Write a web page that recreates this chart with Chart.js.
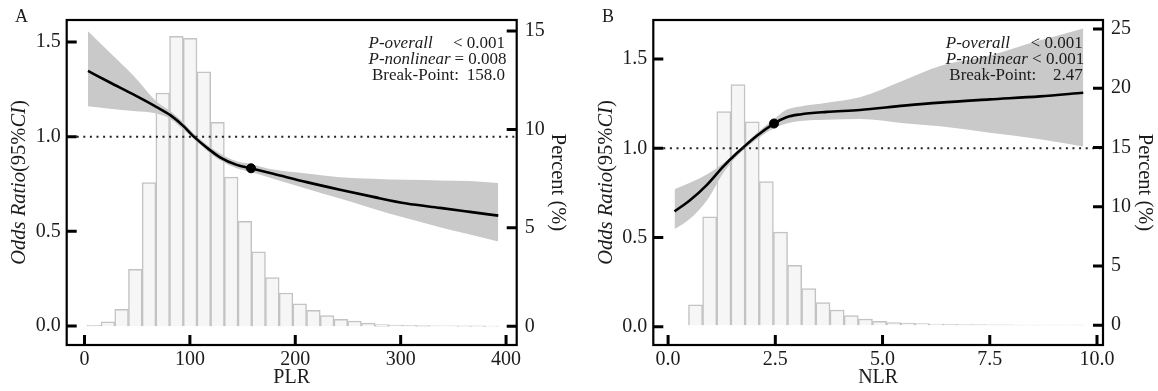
<!DOCTYPE html>
<html><head><meta charset="utf-8">
<script src="https://cdn.jsdelivr.net/npm/chart.js@4.4.1/dist/chart.umd.min.js"></script>
<style>
html,body{margin:0;padding:0;background:#fff;}
#wrap{position:relative;width:1158px;height:391px;overflow:hidden;}
.pane{position:absolute;top:0;width:579px;height:391px;}
#pa{left:0;} #pb{left:579px;}
canvas{display:block;}
</style></head><body>
<div id="wrap">
  <div class="pane" id="pa"><canvas id="ca" width="579" height="391"></canvas></div>
  <div class="pane" id="pb"><canvas id="cb" width="579" height="391"></canvas></div>
</div>
<script>
// ---------- Panel A : PLR ----------
const plrBinMid = [9.2, 22.2, 35.2, 48.2, 61.2, 74.2, 87.2, 100.2, 113.2, 126.2, 139.2, 152.2, 165.2, 178.2, 191.2, 204.2, 217.2, 230.2, 243.2, 256.2, 269.2, 282.2, 295.2, 308.2, 321.2, 334.2, 347.2, 360.2, 373.2, 386.2];
const plrPercent = [0.05, 0.23, 0.86, 2.90, 7.30, 11.85, 14.73, 14.63, 12.93, 10.36, 7.58, 5.33, 3.78, 2.47, 1.69, 1.14, 0.81, 0.55, 0.36, 0.27, 0.16, 0.09, 0.06, 0.05, 0.04, 0.03, 0.03, 0.02, 0.02, 0.01];
const plrX = [3.3, 24.2, 46.3, 68.5, 81.1, 93.7, 103.2, 115.9, 128.6, 144.4, 157.7, 179.1, 210.8, 242.4, 274.0, 305.7, 337.3, 365.7, 392.6];
const plrOR = [1.347, 1.286, 1.223, 1.156, 1.115, 1.057, 1.003, 0.943, 0.891, 0.851, 0.833, 0.804, 0.760, 0.720, 0.682, 0.647, 0.624, 0.603, 0.583];
const plrUpper = [1.557, 1.443, 1.323, 1.185, 1.137, 1.076, 1.019, 0.958, 0.911, 0.870, 0.856, 0.826, 0.805, 0.786, 0.778, 0.772, 0.769, 0.766, 0.755];
const plrLower = [1.160, 1.148, 1.135, 1.122, 1.095, 1.038, 0.990, 0.927, 0.875, 0.833, 0.813, 0.778, 0.725, 0.673, 0.620, 0.569, 0.522, 0.483, 0.446];
const plrBreakX = [158.0];
const plrBreakOR = [0.833];
const plrXTicks = [0, 100, 200, 300, 400];
const plrORTicks = [0.0, 0.5, 1.0, 1.5];
const plrPctTicks = [0, 5, 10, 15];
const plrStats = [["P-overall", "< 0.001"], ["P-nonlinear", "= 0.008"], ["Break-Point:", "158.0"]];

// ---------- Panel B : NLR ----------
const nlrBinMid = [0.64, 0.97, 1.30, 1.63, 1.96, 2.29, 2.62, 2.95, 3.28, 3.61, 3.94, 4.27, 4.60, 4.93, 5.26, 5.59, 5.92, 6.25, 6.58, 6.91, 7.24, 7.57, 7.90, 8.23, 8.56, 8.89, 9.22, 9.55];
const nlrPercent = [1.72, 9.15, 18.03, 20.30, 17.15, 12.12, 7.85, 5.06, 3.08, 1.90, 1.28, 0.82, 0.52, 0.33, 0.23, 0.18, 0.13, 0.10, 0.08, 0.06, 0.05, 0.04, 0.03, 0.02, 0.02, 0.01, 0.01, 0.01];
const nlrX = [0.15, 0.51, 0.90, 1.29, 1.60, 2.07, 2.47, 2.76, 3.08, 3.70, 4.47, 5.50, 6.34, 7.50, 8.67, 9.68];
const nlrOR = [0.647, 0.709, 0.794, 0.899, 0.972, 1.071, 1.139, 1.174, 1.190, 1.204, 1.215, 1.239, 1.256, 1.274, 1.291, 1.311];
const nlrUpper = [0.770, 0.807, 0.853, 0.918, 0.981, 1.086, 1.164, 1.216, 1.235, 1.256, 1.286, 1.381, 1.461, 1.520, 1.605, 1.672];
const nlrLower = [0.546, 0.605, 0.706, 0.863, 0.954, 1.051, 1.113, 1.139, 1.153, 1.160, 1.164, 1.141, 1.123, 1.087, 1.051, 1.010];
const nlrBreakX = [2.47];
const nlrBreakOR = [1.139];
const nlrXTicks = [0, 2.5, 5, 7.5, 10];
const nlrORTicks = [0.0, 0.5, 1.0, 1.5];
const nlrPctTicks = [0, 5, 10, 15, 20, 25];
const nlrStats = [["P-overall", "< 0.001"], ["P-nonlinear", "< 0.001"], ["Break-Point:", "2.47"]];

const SERIF = "'Liberation Serif', 'Times New Roman', serif";
const TXT = '#1c1c1c';

function pts(xs, ys) { return xs.map((x, i) => ({x: x, y: ys[i]})); }

const decorPlugin = {
  id: 'decor',
  afterDatasetsDraw(chart) {
    const o = chart.options.plugins.decor;
    const ctx = chart.ctx, a = chart.chartArea;
    const sx = chart.scales.x, sy = chart.scales.y, sy2 = chart.scales.y2;
    ctx.save();
    // reference line OR = 1
    const y1 = sy.getPixelForValue(1);
    ctx.strokeStyle = '#222'; ctx.lineWidth = 2; ctx.setLineDash([2, 4.6]);
    ctx.beginPath(); ctx.moveTo(a.left + 10, y1); ctx.lineTo(a.right, y1); ctx.stroke();
    ctx.setLineDash([]);
    // frame
    ctx.strokeStyle = '#000'; ctx.lineWidth = 2.2;
    ctx.strokeRect(a.left, a.top, a.right - a.left, a.bottom - a.top);
    // inward ticks
    ctx.lineWidth = 3;
    ctx.beginPath();
    sx.ticks.forEach(t => { const p = sx.getPixelForValue(t.value); ctx.moveTo(p, a.bottom); ctx.lineTo(p, a.bottom - 10); });
    sy.ticks.forEach(t => { const p = sy.getPixelForValue(t.value); ctx.moveTo(a.left, p); ctx.lineTo(a.left + 10, p); });
    sy2.ticks.forEach(t => { const p = sy2.getPixelForValue(t.value); ctx.moveTo(a.right, p); ctx.lineTo(a.right - 10, p); });
    ctx.stroke();
    // stats text
    ctx.fillStyle = TXT;
    ctx.textBaseline = 'alphabetic';
    const L = a.right + o.statsLeft, R = a.right + o.statsRight;
    o.stats.forEach((row, i) => {
      const yb = o.statsTop + i * 16;
      ctx.font = (i < 2 ? 'italic ' : '') + '17px ' + SERIF;
      ctx.textAlign = 'left';
      ctx.fillText(row[0], L + (i < 2 ? -1.5 : 2), yb);
      ctx.font = '17px ' + SERIF;
      ctx.textAlign = 'right';
      ctx.fillText(row[1], R + (i === 1 ? 1.5 : 0), yb);
    });
    // panel letter
    ctx.font = '18px ' + SERIF;
    ctx.textAlign = 'left';
    ctx.fillText(o.letter, o.letterX, 22);
    // left axis title with mixed styles
    const segs = [["Odds Ratio", true], ["(", false], ["95%", false], ["CI", true], [")", false]];
    const fs = '20.5px ' + SERIF;
    let total = 0;
    segs.forEach(s => { ctx.font = (s[1] ? 'italic ' : '') + fs; total += ctx.measureText(s[0]).width; });
    ctx.translate(o.titleX, (a.top + a.bottom) / 2);
    ctx.rotate(-Math.PI / 2);
    ctx.textAlign = 'left'; ctx.textBaseline = 'middle';
    let cx = -total / 2;
    segs.forEach(s => { ctx.font = (s[1] ? 'italic ' : '') + fs; ctx.fillText(s[0], cx, 0); cx += ctx.measureText(s[0]).width; });
    ctx.restore();
  }
};

function makeChart(id, c) {
  const font = {family: SERIF, size: 20};
  return new Chart(document.getElementById(id), {
    type: 'bar',
    data: {
      datasets: [
        {type: 'scatter', data: pts(c.bx, c.by), yAxisID: 'y', pointRadius: 4.5, pointBackgroundColor: '#000', pointBorderColor: '#000', order: 0},
        {type: 'line', data: pts(c.x, c.or), yAxisID: 'y', borderColor: '#000', borderWidth: 2.6, pointRadius: 0, fill: false, cubicInterpolationMode: 'monotone', order: 1},
        {type: 'line', data: pts(c.x, c.up), yAxisID: 'y', borderWidth: 0, borderColor: 'rgba(0,0,0,0)', backgroundColor: '#c9c9c9', pointRadius: 0, fill: '+1', cubicInterpolationMode: 'monotone', order: 5},
        {type: 'line', data: pts(c.x, c.lo), yAxisID: 'y', borderWidth: 0, borderColor: 'rgba(0,0,0,0)', pointRadius: 0, fill: false, cubicInterpolationMode: 'monotone', order: 6},
        {type: 'bar', data: pts(c.hx, c.hy), yAxisID: 'y2', backgroundColor: '#f6f6f6', borderColor: '#c3c3c3', borderWidth: 1.5, barPercentage: 1, categoryPercentage: 1, grouped: false, order: 10}
      ]
    },
    options: {
      responsive: false, animation: false, devicePixelRatio: 1,
      layout: {padding: {top: 19, left: 0, right: 0, bottom: 0}},
      plugins: {legend: {display: false}, tooltip: {enabled: false},
        decor: {stats: c.stats, statsLeft: c.statsLeft, statsRight: c.statsRight, statsTop: 48, letter: c.letter, letterX: c.letterX, titleX: c.titleX}},
      scales: {
        x: {type: 'linear', position: 'bottom', min: c.xmin, max: c.xmax, offset: false,
          grid: {display: false, drawTicks: false, offset: false}, border: {display: false},
          ticks: {font: font, color: TXT, padding: 3, maxRotation: 0, autoSkip: false, callback: c.xfmt},
          afterBuildTicks: s => { s.ticks = c.xticks.map(v => ({value: v})); },
          afterFit: s => { s.height = 46; },
          title: {display: true, text: c.xtitle, font: {family: SERIF, size: 20}, color: TXT, padding: {top: 0, bottom: 1}}},
        y: {type: 'linear', position: 'left', min: c.ymin, max: c.ymax,
          grid: {display: false, drawTicks: false}, border: {display: false},
          ticks: {font: font, color: TXT, padding: 6, callback: v => v.toFixed(1)},
          afterBuildTicks: s => { s.ticks = c.yticks.map(v => ({value: v})); },
          afterFit: s => { s.width = c.leftW; }},
        y2: {type: 'linear', position: 'right', min: c.y2min, max: c.y2max,
          grid: {display: false, drawTicks: false}, border: {display: false},
          ticks: {font: font, color: TXT, padding: 8, callback: v => String(v)},
          afterBuildTicks: s => { s.ticks = c.y2ticks.map(v => ({value: v})); },
          afterFit: s => { s.width = c.rightW; },
          title: {display: true, text: 'Percent (%)', font: {family: SERIF, size: 20.5}, color: TXT, padding: {top: c.rtPad, bottom: 0}}}
      }
    },
    plugins: [decorPlugin]
  });
}

makeChart('ca', {
  hx: plrBinMid, hy: plrPercent, x: plrX, or: plrOR, up: plrUpper, lo: plrLower, bx: plrBreakX, by: plrBreakOR,
  xticks: plrXTicks, yticks: plrORTicks, y2ticks: plrPctTicks, xfmt: v => String(v), xtitle: 'PLR',
  xmin: -16.9, xmax: 410.1, ymin: -0.10, ymax: 1.616, y2min: -0.95, y2max: 15.56,
  leftW: 66.7, rightW: 62.3, rtPad: 9, stats: plrStats, statsLeft: -146.7, statsRight: -11.7,
  letter: 'A', letterX: 15, titleX: 20
});
makeChart('cb', {
  hx: nlrBinMid, hy: nlrPercent, x: nlrX, or: nlrOR, up: nlrUpper, lo: nlrLower, bx: nlrBreakX, by: nlrBreakOR,
  xticks: nlrXTicks, yticks: nlrORTicks, y2ticks: nlrPctTicks, xfmt: v => v.toFixed(1), xtitle: 'NLR',
  xmin: -0.345, xmax: 10.14, ymin: -0.102, ymax: 1.719, y2min: -1.67, y2max: 25.75,
  leftW: 74.3, rightW: 55, rtPad: 1, stats: nlrStats, statsLeft: -155.7, statsRight: -20.3,
  letter: 'B', letterX: 23, titleX: 27.5
});
</script>
</body></html>
